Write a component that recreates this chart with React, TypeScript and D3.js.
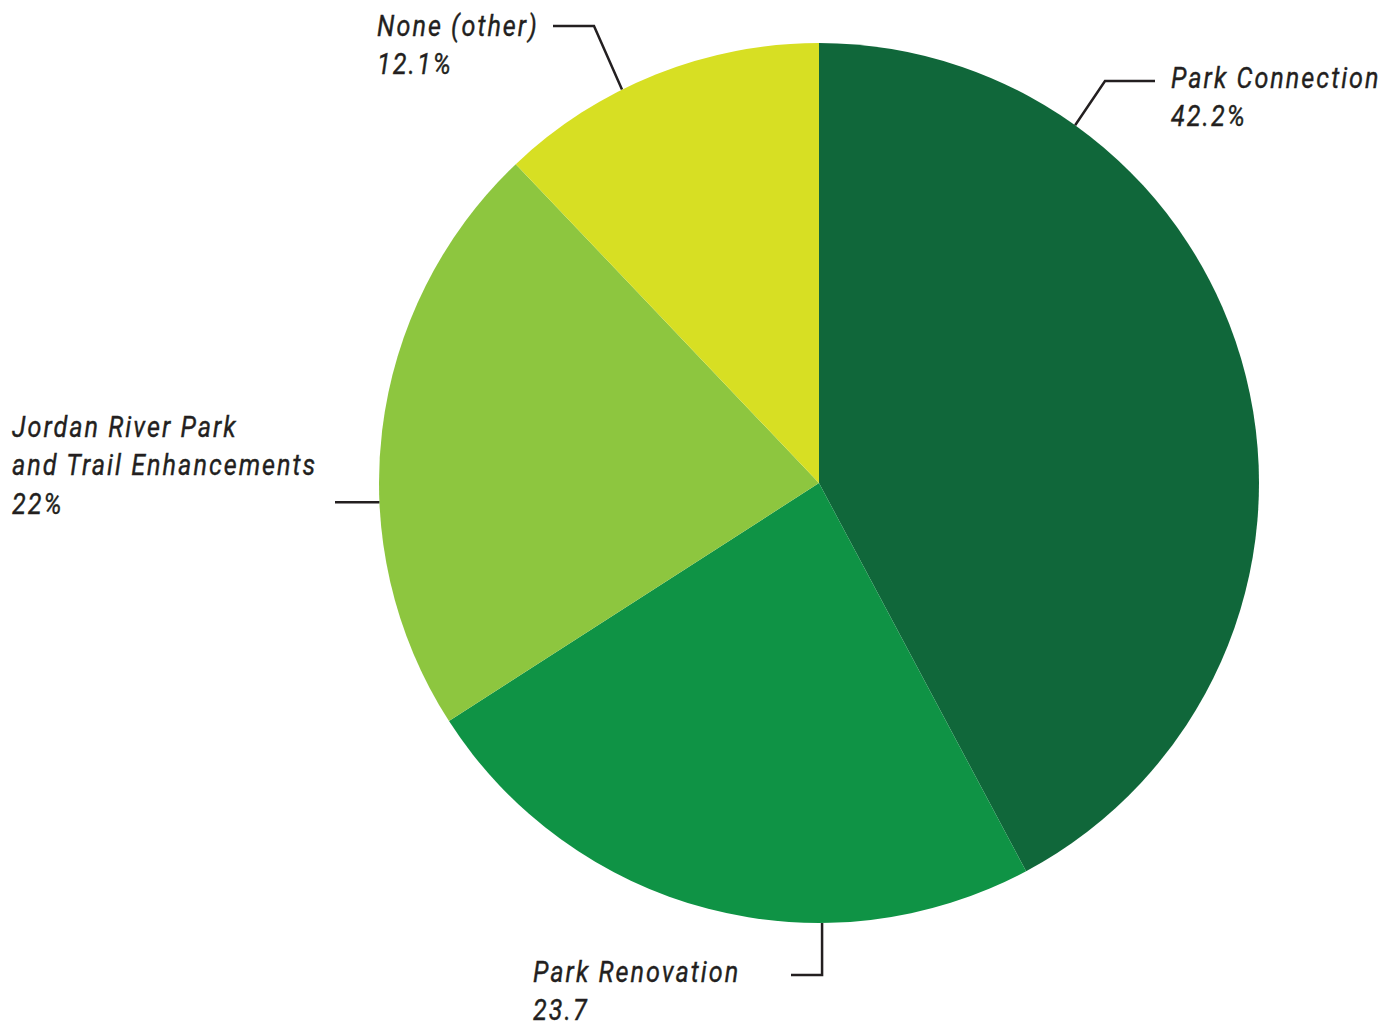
import React from "react";
import * as d3 from "d3";

const categories = ["Park Connection", "Park Renovation", "Jordan River Park and Trail Enhancements", "None (other)"];
const values = [42.2, 23.7, 22, 12.1];
const valueLabels = ["42.2%", "23.7", "22%", "12.1%"];
const colors = ["#10673A", "#0F9345", "#8DC63F", "#D7DF23"];

const W = 1396, H = 1028;
const cx = 819, cy = 483, R = 440;

type Lbl = { lines: string[]; x: number; y: number; anchorDeg: number; path: (p: [number, number]) => [number, number][] };

const labels: Lbl[] = [
  { lines: ["Park Connection", "42.2%"], x: 1171, y: 88, anchorDeg: 35.6,
    path: (p) => [p, [1105, 81], [1155, 81]] },
  { lines: ["Park Renovation", "23.7"], x: 533, y: 982, anchorDeg: 179.6,
    path: (p) => [p, [p[0], 975], [791, 975]] },
  { lines: ["Jordan River Park", "and Trail Enhancements", "22%"], x: 12, y: 437, anchorDeg: 267.5,
    path: (p) => [p, [335, p[1]]] },
  { lines: ["None (other)", "12.1%"], x: 377, y: 36, anchorDeg: 333.4,
    path: (p) => [p, [594, 26], [553, 26]] },
];

export default function App() {
  const pie = d3.pie<number>().sort(null).value((d) => d);
  const arcs = pie(values);
  const arc = d3.arc<d3.PieArcDatum<number>>().innerRadius(0).outerRadius(R);
  const line = d3.line();
  return (
    <svg width={W} height={H} style={{ position: "absolute", left: 0, top: 0, background: "#fff" }}>
      <g transform={`translate(${cx},${cy})`}>
        {arcs.map((a, i) => (
          <path key={i} d={arc(a) || ""} fill={colors[i]} />
        ))}
      </g>
      {labels.map((l, i) => {
        const ang = (l.anchorDeg * Math.PI) / 180;
        const p: [number, number] = [cx + R * Math.sin(ang), cy - R * Math.cos(ang)];
        return (
          <g key={i}>
            <path d={line(l.path(p)) || ""} fill="none" stroke="#231F20" strokeWidth={2.5} />
            <g transform={`translate(${l.x},${l.y}) scale(0.84,1)`}>
              <text fontFamily="Roboto" fontStyle="italic" fontWeight={400} fontSize={30} letterSpacing={2.4} fill="#231F20" stroke="#231F20" strokeWidth={0.4}>
                {l.lines.map((t, j) => (
                  <tspan key={j} x={0} y={j * 38.5}>{t}</tspan>
                ))}
              </text>
            </g>
          </g>
        );
      })}
    </svg>
  );
}
